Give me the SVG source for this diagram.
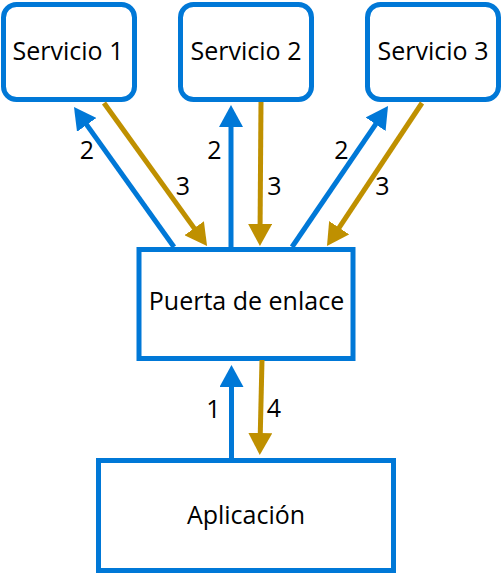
<svg xmlns="http://www.w3.org/2000/svg" width="502" height="574" viewBox="0 0 502 574">
<style>
.box{fill:#fff;stroke:#0078D7;stroke-width:5}
.t{font-family:"Segoe UI","Open Sans","Noto Sans",sans-serif;font-size:25px;fill:#000;text-anchor:middle}
.n{font-family:"Segoe UI","Open Sans","Noto Sans",sans-serif;font-size:25px;fill:#000;text-anchor:middle}
.blue{stroke:#0078D7;stroke-width:5;fill:none;marker-end:url(#hb)}
.gold{stroke:#BF9000;stroke-width:5;fill:none;marker-end:url(#hg)}
</style>
<defs>
<marker id="hb" markerUnits="userSpaceOnUse" markerWidth="22" markerHeight="24" refX="12" refY="12" orient="auto" viewBox="0 0 22 24"><path d="M0,0 L22,12 L0,24 z" fill="#0078D7"/></marker>
<marker id="hg" markerUnits="userSpaceOnUse" markerWidth="22" markerHeight="24" refX="12" refY="12" orient="auto" viewBox="0 0 22 24"><path d="M0,0 L22,12 L0,24 z" fill="#BF9000"/></marker>
</defs>
<g id="servicio1"><rect class="box" x="3.5" y="4.5" width="131" height="95" rx="13"/><text class="t" x="68" y="59.5">Servicio 1</text></g>
<g id="servicio2"><rect class="box" x="180.5" y="4.5" width="131" height="95" rx="13"/><text class="t" x="246" y="59.5">Servicio 2</text></g>
<g id="servicio3"><rect class="box" x="367.5" y="4.5" width="131" height="95" rx="13"/><text class="t" x="433" y="59.5">Servicio 3</text></g>
<g id="gateway"><rect class="box" x="139" y="249.5" width="214" height="109"/><text class="t" x="246.5" y="309.5">Puerta de enlace</text></g>
<g id="aplicacion"><rect class="box" x="98.5" y="460.5" width="295" height="110"/><text class="t" x="246" y="523.5">Aplicación</text></g>
<g id="connectors">
<line class="blue" x1="231.5" y1="458" x2="231.5" y2="375"/>
<line class="gold" x1="262" y1="360" x2="260" y2="445"/>
<line class="blue" x1="174" y1="247" x2="79.8" y2="115.1"/>
<line class="gold" x1="104" y1="103" x2="201.2" y2="237.9"/>
<line class="blue" x1="231" y1="247" x2="231" y2="115"/>
<line class="gold" x1="261" y1="102" x2="260" y2="236"/>
<line class="blue" x1="292" y1="247" x2="382.4" y2="114.3"/>
<line class="gold" x1="422" y1="103" x2="332.5" y2="237.7"/>
<text class="n" x="87" y="158.5">2</text>
<text class="n" x="183" y="195">3</text>
<text class="n" x="214.5" y="158.5">2</text>
<text class="n" x="274.5" y="195">3</text>
<text class="n" x="341.5" y="158.5">2</text>
<text class="n" x="382.5" y="195">3</text>
<text class="n" x="213.5" y="418">1</text>
<text class="n" x="274" y="417">4</text>
</g>
</svg>
